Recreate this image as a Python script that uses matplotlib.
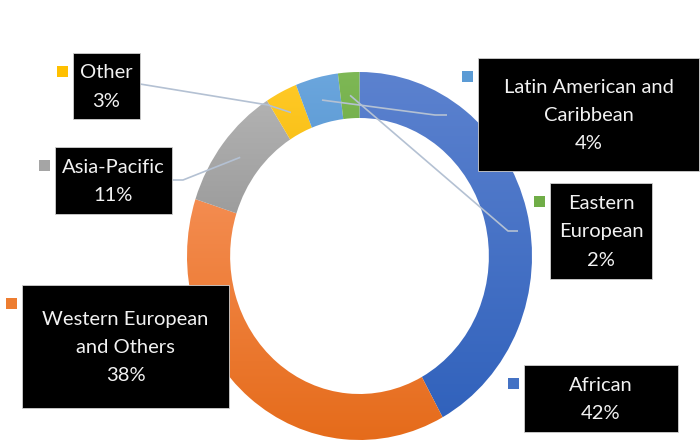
import matplotlib
matplotlib.use('Agg')
import matplotlib.pyplot as plt
import numpy as np
from matplotlib.colors import to_rgb
from matplotlib.patches import Rectangle

# data (clockwise from 12 o'clock)
groups = ['African', 'Western European\nand Others', 'Asia-Pacific', 'Other',
          'Latin American and\nCaribbean', 'Eastern\nEuropean']
shares = [42, 38, 11, 3, 4, 2]

# gradient colours (top, bottom) for each slice
grads = [('#5C82CF', '#3162BC'), ('#F48C50', '#E56B1A'), ('#B2B2B2', '#959595'),
         ('#FFC926', '#EFB300'), ('#6BA6DD', '#4C8DCB'), ('#7EB855', '#5F9E38')]
marker_colors = ['#4472C4', '#ED7D31', '#A5A5A5', '#FFC000', '#5B9BD5', '#70AD47']

# label box layout in pixels (x0, y0, x1, y1), y from the top
boxes = [(524, 365, 678, 432), (22, 285, 229, 408), (55, 147, 172, 214),
         (73, 53, 140, 119), (478, 58, 699, 171), (550, 183, 652, 279)]
# leader line bends (pixels), None = no leader
bends = [None, None, [(183, 180), (172, 180)], [(268, 105), (140, 84)],
         [(435, 115), (447, 115)], [(508, 231), (518, 231)]]

W, H = 700, 445
fig = plt.figure(figsize=(7, 4.45), dpi=100)

# donut axes (slightly stretched vertically like the original)
ax = fig.add_axes([187 / W, 5 / H, 345 / W, 368 / H])
ring = 0.25
wedges, _ = ax.pie(shares, startangle=90, counterclock=False, radius=1,
                   wedgeprops=dict(width=ring, linewidth=0))

for w, (ct, cb) in zip(wedges, grads):
    v = w.get_path().vertices
    x0, x1 = v[:, 0].min(), v[:, 0].max()
    y0, y1 = v[:, 1].min(), v[:, 1].max()
    g = np.linspace(0, 1, 256)[:, None, None]
    img = (1 - g) * np.array(to_rgb(ct)) + g * np.array(to_rgb(cb))
    w.set_facecolor('none')
    im = ax.imshow(img, extent=[x0, x1, y0, y1], origin='upper',
                   aspect='auto', interpolation='bilinear', zorder=1)
    im.set_clip_path(w)

ax.set_xlim(-1, 1)
ax.set_ylim(-1, 1)
ax.set_aspect('auto')
ax.axis('off')

# overlay in pixel coords for leaders and labels
ov = fig.add_axes([0, 0, 1, 1], zorder=5)
ov.set_xlim(0, W)
ov.set_ylim(H, 0)
ov.axis('off')
ov.patch.set_alpha(0)

cum = np.cumsum([0] + shares)
total = cum[-1]
for i, name in enumerate(groups):
    mid = (cum[i] + cum[i + 1]) / 2 / total
    ang = np.deg2rad(90 - 360 * mid)
    rm = 1 - ring / 2
    px, py = ov.transData.inverted().transform(
        ax.transData.transform((rm * np.cos(ang), rm * np.sin(ang))))
    if bends[i] is not None:
        pts = [(px, py)] + bends[i]
        ov.plot([p[0] for p in pts], [p[1] for p in pts], color='#B4C1D3',
                lw=1.2, zorder=2, solid_capstyle='butt')
    bx0, by0, bx1, by1 = boxes[i]
    ov.add_patch(Rectangle((bx0, by0), bx1 - bx0, by1 - by0, facecolor='black',
                           edgecolor='#D0D0D0', lw=0.6, zorder=3))
    ov.text((bx0 + bx1) / 2, (by0 + by1) / 2 + 1, f'{name}\n{shares[i]}%',
            color='#F2F2F2', ha='center', va='center', fontsize=14.5,
            family='Lato', linespacing=1.8, zorder=4)
    ov.add_patch(Rectangle((bx0 - 16, by0 + 13), 11, 11,
                           facecolor=marker_colors[i], lw=0, zorder=3))

fig.savefig('out.png', dpi=100)
